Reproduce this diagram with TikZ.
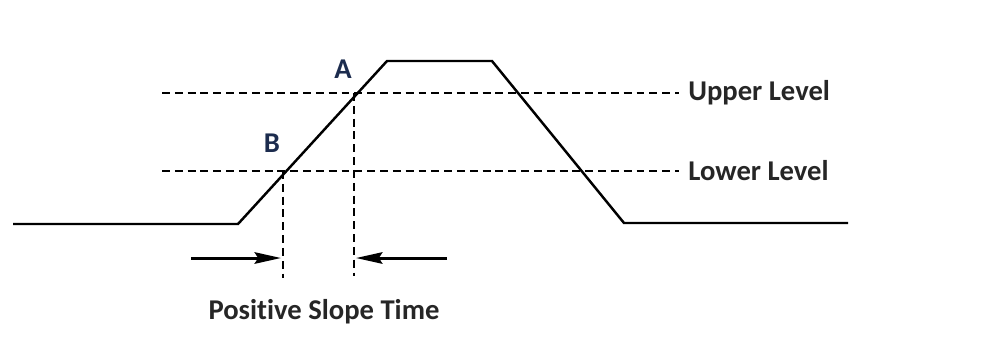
\documentclass[tikz,border=0pt]{standalone}
\usepackage{fontspec}
\setmainfont[Ligatures=NoCommon]{Carlito}
\usetikzlibrary{arrows.meta,positioning}
\definecolor{pointnavy}{RGB}{28,44,78}

\begin{document}
\begin{tikzpicture}[x=0.02cm,y=-0.02cm,
    wave/.style={line width=1.4pt, line join=miter},
    level/.style={line width=1.1pt, dash pattern=on 4.5pt off 2.8pt},
    lbl/.style={font=\fontsize{16.3}{20}\selectfont\bfseries, text=black!85, inner sep=0pt},
    pointlbl/.style={lbl, text=pointnavy},
    timearrow/.style={line width=1.7pt, -{Stealth[length=15pt,width=6.5pt,inset=2pt]}}]
\useasboundingbox (0,0) rectangle (1000,343);

% Waveform corners
\coordinate (s0) at (13,224);
\coordinate (r0) at (238,224);
\coordinate (r1) at (387,61);
\coordinate (f0) at (492,61);
\coordinate (f1) at (624,223);
\coordinate (e0) at (848,223);
\draw[wave] (s0) -- (r0) -- (r1) -- (f0) -- (f1) -- (e0);

% Threshold levels
\coordinate (up0) at (162,93);
\coordinate (lo0) at (162,171);
\node[lbl, anchor=west, inner xsep=0.18cm] (upper) at (679,93) {Upper Level};
\node[lbl, anchor=west, inner xsep=0.18cm] (lower) at (679,171) {Lower Level};
\draw[level] (up0) -- (upper.west);
\draw[level] (lo0) -- (lower.west);

% Crossing points
\node[pointlbl] (ptA) at (343,69) {A};
\node[pointlbl] (ptB) at (272,143) {B};
\coordinate (tA) at (354,93);
\coordinate (tB) at (283,171);
\coordinate (tAend) at (354,276);
\coordinate (tBend) at (283,278);
\draw[level] (tA) -- (tAend);
\draw[level] (tB) -- (tBend);

% Time arrows
\coordinate (lstart) at (191,258);
\coordinate (lend) at (281,258);
\coordinate (rstart) at (447,258);
\coordinate (rend) at (356,258);
\draw[timearrow] (lstart) -- (lend);
\draw[timearrow] (rstart) -- (rend);

\node[lbl] (slope) at (324,312) {Positive Slope Time};

\end{tikzpicture}
\end{document}
